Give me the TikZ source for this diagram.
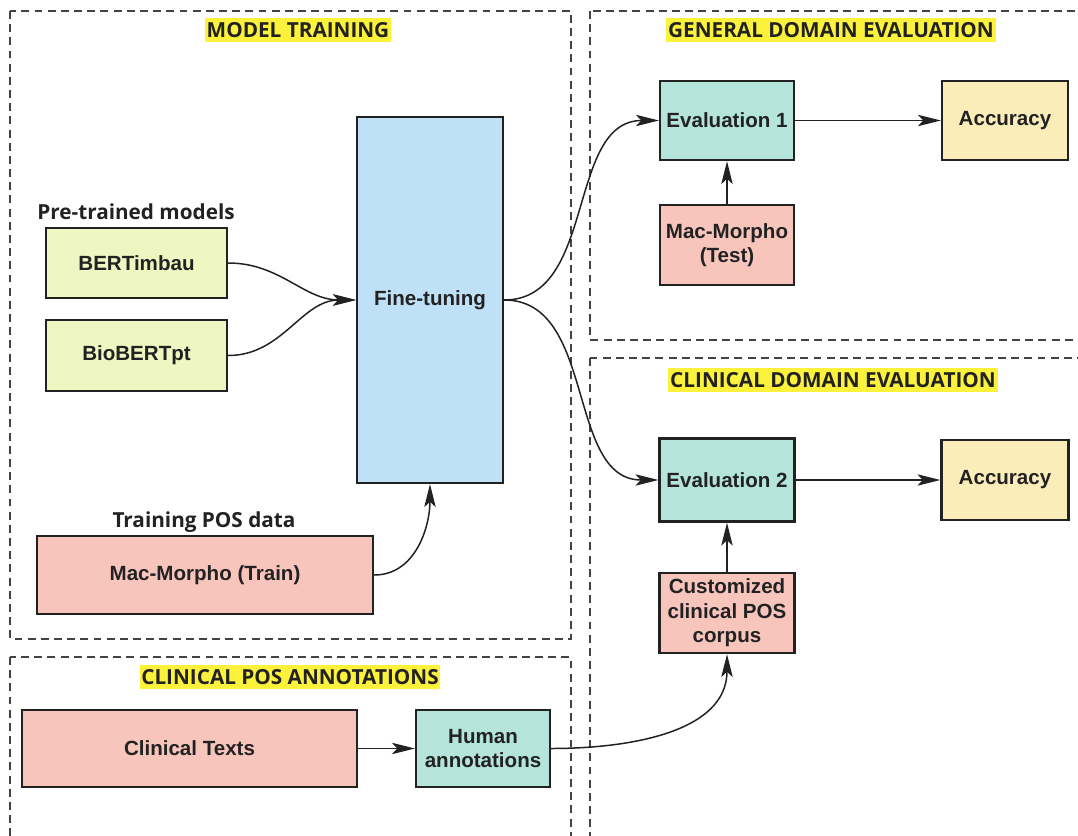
\documentclass[tikz,border=0pt]{standalone}
\usepackage{fontspec}
\setmainfont{Liberation Sans}
\newfontfamily\headfont{Open Sans}
\usetikzlibrary{arrows.meta,positioning}
\definecolor{modelgreen}{HTML}{EEF7C2}
\definecolor{tuneblue}{HTML}{BFE1F8}
\definecolor{evalteal}{HTML}{B4E4DA}
\definecolor{datapink}{HTML}{F8C5BD}
\definecolor{accyellow}{HTML}{FBEDB9}
\definecolor{marker}{HTML}{FCF23C}
\definecolor{ink}{HTML}{222222}

\begin{document}
\begin{tikzpicture}[
		x=0.02cm, y=0.02cm,
		box/.style={rectangle, draw=ink, line width=1.4pt, align=center, text=ink, inner sep=2pt, font=\fontsize{11.7}{14}\selectfont\bfseries},
		sectiontitle/.style={fill=marker, text=ink, inner xsep=1pt, inner ysep=2.5pt, font=\headfont\fontsize{11.8}{14}\selectfont\bfseries},
		grouplabel/.style={text=ink, inner sep=1pt, font=\headfont\fontsize{11.8}{14}\selectfont\bfseries},
		dashedframe/.style={draw=ink!85, line width=0.6pt, dash pattern=on 4.5pt off 3pt},
		arr/.style={-{Stealth[length=13pt,width=6.5pt,inset=3pt]}, line width=0.85pt, draw=ink}
	]
	\useasboundingbox (0,0) rectangle (1078,-835);

	\draw[dashedframe] (10,-11) rectangle (571,-639);
	\draw[dashedframe] (590,-11) rectangle (1090,-340);
	\draw[dashedframe] (590,-358) rectangle (1090,-850);
	\draw[dashedframe] (10,-657) rectangle (571,-850);

	\node[sectiontitle] (traintitle) at (298,-30) {MODEL TRAINING};
	\node[sectiontitle] (generaltitle) at (831,-30) {GENERAL DOMAIN EVALUATION};
	\node[sectiontitle] (clinicaltitle) at (833,-380) {CLINICAL DOMAIN EVALUATION};
	\node[sectiontitle] (annotitle) at (290,-677) {CLINICAL POS ANNOTATIONS};

	\node[box, fill=tuneblue, minimum width=2.92cm, minimum height=7.32cm] (tune) at (430,-300) {Fine-tuning};
	\node[box, fill=modelgreen, minimum width=3.62cm, minimum height=1.41cm] (bert) at (136.5,-263) {BERTimbau};
	\node[box, fill=modelgreen, minimum width=3.62cm, minimum height=1.41cm] (biobert) at (136.5,-355.5) {BioBERTpt};
	\node[grouplabel] (pretrained) at (136,-212) {Pre-trained models};
	\node[box, fill=datapink, minimum width=6.72cm, minimum height=1.56cm] (train) at (205,-575) {Mac-Morpho (Train)};
	\node[grouplabel] (posdata) at (204,-522) {Training POS data};

	\node[box, fill=evalteal, minimum width=2.68cm, minimum height=1.58cm] (evalone) at (727,-120.5) {Evaluation 1};
	\node[box, fill=accyellow, minimum width=2.52cm, minimum height=1.58cm] (accone) at (1005,-120.5) {Accuracy};
	\node[box, fill=datapink, minimum width=2.68cm, minimum height=1.6cm] (test) at (727,-245) {Mac-Morpho\\(Test)};

	\node[box, fill=evalteal, minimum width=2.7cm, minimum height=1.66cm] (evaltwo) at (727,-480) {Evaluation 2};
	\node[box, fill=accyellow, minimum width=2.54cm, minimum height=1.6cm] (acctwo) at (1005,-480) {Accuracy};
	\node[box, fill=datapink, minimum width=2.7cm, minimum height=1.6cm] (corpus) at (727,-613) {Customized\\clinical POS\\corpus};

	\node[box, fill=datapink, minimum width=6.7cm, minimum height=1.54cm] (clintext) at (189.5,-748.5) {Clinical Texts};
	\node[box, fill=evalteal, minimum width=2.68cm, minimum height=1.54cm] (human) at (483,-748.5) {Human\\annotations};

	\draw[arr] (bert.east) to[out=0, in=180] (tune.west);
	\draw[arr] (biobert.east) to[out=0, in=180] (tune.west);
	\draw[arr] (train.east) to[out=0, in=-90] (tune.south);
	\draw[arr] (tune.east) to[out=0, in=180] (evalone.west);
	\draw[arr] (tune.east) to[out=0, in=180] (evaltwo.west);
	\draw[arr] (evalone) -- (accone);
	\draw[arr] (test) -- (evalone);
	\draw[arr] (evaltwo) -- (acctwo);
	\draw[arr] (corpus) -- (evaltwo);
	\draw[arr] (clintext) -- (human);
	\draw[arr] (human.east) to[out=0, in=-90] (corpus.south);
\end{tikzpicture}
\end{document}
